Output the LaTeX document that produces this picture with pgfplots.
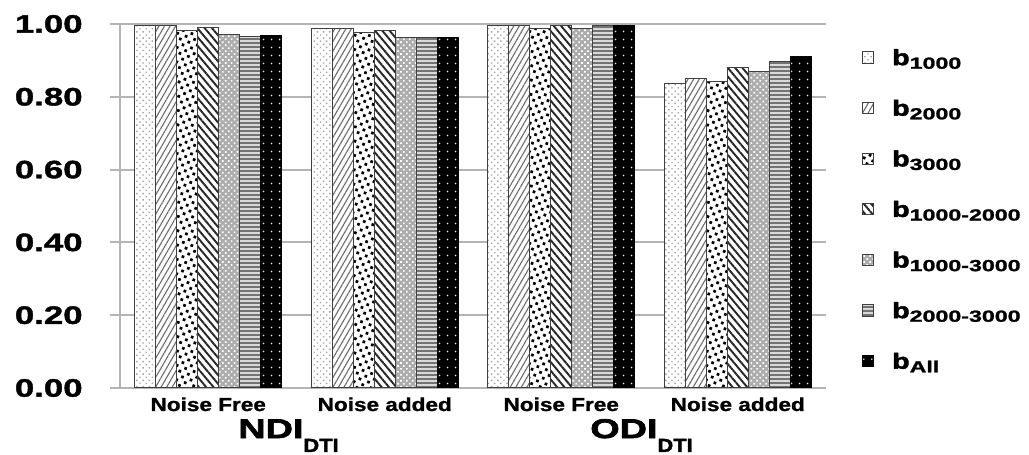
\documentclass[border=0pt]{standalone}
\usepackage{fontspec}
\setmainfont{Liberation Sans}
\usepackage{pgfplots}
\pgfplotsset{compat=1.18}
\usetikzlibrary{patterns,patterns.meta}
\newfontfamily\tickfont[FakeStretch=1.38, FakeBold=1.6]{Liberation Sans Bold}
\newfontfamily\catfont[FakeStretch=1.2, FakeBold=1.2]{Liberation Sans Bold}
\newfontfamily\bigfont[FakeStretch=1.4, FakeBold=2.5]{Liberation Sans Bold}
\newfontfamily\bigsubfont[FakeStretch=1.15, FakeBold=1.8]{Liberation Sans Bold}
\newfontfamily\legbfont[FakeStretch=1.3, FakeBold=2.2]{Liberation Sans Bold}
\newfontfamily\legsfont[FakeStretch=1.45, FakeBold=1.5]{Liberation Sans Bold}
\newcommand\bsub[1]{{\legbfont\fontsize{11}{12}\selectfont b}\raisebox{-1.8pt}{\legsfont\fontsize{8}{9}\selectfont #1}}
\newcommand\bigsub[2]{{\bigfont\fontsize{13.5}{14}\selectfont #1}\raisebox{-7pt}{\bigsubfont\fontsize{9.5}{10}\selectfont #2}}
\definecolor{gridgray}{HTML}{B4B4B4}
\pgfplotsset{
  myleg/.style={legend image code/.code={\draw[##1] (0pt,1.0pt) rectangle (5.6pt,6.6pt);}},
  bA/.style={draw=black!75, line width=0.5pt, fill=white, postaction={pattern={Dots[radius=0.5pt, distance=2.2pt, angle=45]}, pattern color=gray!70}},
  bB/.style={draw=black!75, line width=0.5pt, fill=white, postaction={pattern={Lines[angle=60, distance=2.4pt, line width=0.55pt]}, pattern color=gray!85!black}},
  bC/.style={draw=black!75, line width=0.5pt, fill=white, postaction={pattern={Dots[radius=0.95pt, distance=3.2pt, angle=25]}, pattern color=black}},
  bD/.style={draw=black!75, line width=0.5pt, fill=white, postaction={pattern={Lines[angle=-50, distance=2.8pt, line width=0.95pt]}, pattern color=black!85}},
  bE/.style={draw=black!75, line width=0.5pt, fill=gray!65, postaction={pattern={Dots[radius=0.6pt, distance=2.1pt, angle=45]}, pattern color=white}},
  bF/.style={draw=black!75, line width=0.5pt, fill=gray!30, postaction={pattern={Lines[angle=0, distance=2.0pt, line width=0.75pt]}, pattern color=gray!90!black}},
  bG/.style={draw=black, line width=0.5pt, fill=black, postaction={pattern={Dots[radius=0.5pt, distance=4pt]}, pattern color=white!75!gray}},
}
\begin{document}
\begin{tikzpicture}
\path[use as bounding box] (0,0) rectangle (514.5pt,227.5pt);
\begin{axis}[
  at={(60pt,33.5pt)}, anchor=south west,
  width=353pt, height=182pt, scale only axis,
  ybar=0pt, bar width=10.5pt,
  xmin=-0.5, xmax=3.5, ymin=0, ymax=1,
  axis x line=none, axis y line*=left,
  y axis line style={draw=gridgray, line width=1pt},
  xtick={0,1,2,3},
  ytick={0,0.2,0.4,0.6,0.8,1.0},
  ymajorgrids, grid style={draw=gridgray, line width=1pt},
  tick align=outside, major tick length=5pt,
  ytick style={draw=gridgray, line width=1pt},
  /pgf/number format/assume math mode=true,
  /pgf/number format/fixed, /pgf/number format/fixed zerofill, /pgf/number format/precision=2,
  yticklabel style={font=\tickfont\fontsize{12.6}{14}\selectfont, inner sep=0pt, xshift=-13.5pt},
  clip=false,
  legend style={at={(1.051,0.964)}, anchor=north west, draw=none, fill=none, inner sep=0pt, outer sep=0pt, column sep=9pt, row sep=0pt, nodes={inner sep=0pt, text height=14pt, text depth=11.3pt, anchor=base west}},
  legend cell align=left,
]
\addplot[bA, myleg] coordinates {(0,0.997) (1,0.989) (2,0.997) (3,0.837)};
\addplot[bB, myleg] coordinates {(0,0.995) (1,0.987) (2,0.995) (3,0.851)};
\addplot[bC, myleg] coordinates {(0,0.981) (1,0.977) (2,0.989) (3,0.841)};
\addplot[bD, myleg] coordinates {(0,0.991) (1,0.981) (2,0.995) (3,0.881)};
\addplot[bE, myleg] coordinates {(0,0.970) (1,0.962) (2,0.988) (3,0.869)};
\addplot[bF, myleg] coordinates {(0,0.965) (1,0.962) (2,0.995) (3,0.898)};
\addplot[bG, myleg] coordinates {(0,0.969) (1,0.962) (2,0.995) (3,0.911)};
\legend{\bsub{1000},\bsub{2000},\bsub{3000},\bsub{1000-2000},\bsub{1000-3000},\bsub{2000-3000},\bsub{All}}
\node[anchor=base, inner sep=0pt, font=\catfont\fontsize{9.4}{10}\selectfont] at (axis cs:0,0) [yshift=-11.5pt] {Noise Free};
\node[anchor=base, inner sep=0pt, font=\catfont\fontsize{9.4}{10}\selectfont] at (axis cs:1,0) [yshift=-11.5pt] {Noise added};
\node[anchor=base, inner sep=0pt, font=\catfont\fontsize{9.4}{10}\selectfont] at (axis cs:2,0) [yshift=-11.5pt] {Noise Free};
\node[anchor=base, inner sep=0pt, font=\catfont\fontsize{9.4}{10}\selectfont] at (axis cs:3,0) [yshift=-11.5pt] {Noise added};
\node[anchor=base, inner sep=0pt] at (axis cs:0.5,0) [yshift=-25pt, xshift=-4pt] {\bigsub{NDI}{DTI}};
\node[anchor=base, inner sep=0pt] at (axis cs:2.5,0) [yshift=-25pt, xshift=-4pt] {\bigsub{ODI}{DTI}};
\end{axis}
\end{tikzpicture}
\end{document}
